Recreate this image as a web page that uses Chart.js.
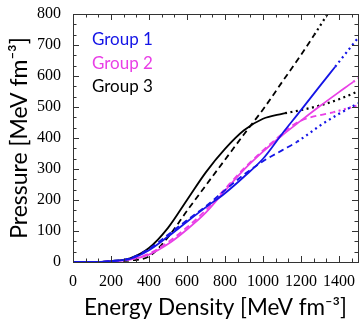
<!DOCTYPE html>
<html>
<head>
<meta charset="utf-8">
<script src="https://cdn.jsdelivr.net/npm/chart.js@4"></script>
<style>
  html, body { margin: 0; padding: 0; background: #fff; }
</style>
</head>
<body>
<canvas id="myChart" width="360" height="324"></canvas>
<script>
const groups = ["Group 1", "Group 2", "Group 3"];
const groupColors = ["#1414e6", "#e93fe6", "#000000"];

const xTicks = [0, 200, 400, 600, 800, 1000, 1200, 1400];
const yTicks = [0, 100, 200, 300, 400, 500, 600, 700, 800];

// group 1 (blue)
const g1SolidE = [0, 100, 200, 300, 400, 500, 600, 700, 800, 900, 1000, 1100, 1200, 1300, 1380, 1500];
const g1SolidP = [0, 0, 3, 10, 38, 82, 130, 177, 222, 275, 333, 413, 490, 568, 630, 723];
const g1SolidEnd = 1380;
const g1DashE = [0, 100, 200, 300, 400, 500, 600, 700, 800, 900, 1000, 1100, 1180, 1250, 1300, 1400, 1500];
const g1DashP = [0, 0, 3, 12, 42, 88, 135, 180, 232, 282, 325, 360, 388, 418, 440, 478, 512];
const g1DashEnd = 1180;

// group 2 (magenta)
const g2SolidE = [0, 100, 200, 300, 400, 500, 600, 700, 800, 900, 1000, 1100, 1200, 1300, 1400, 1475, 1500];
const g2SolidP = [0, 0, 2, 8, 24, 58, 105, 160, 230, 298, 356, 408, 456, 503, 548, 581, 593];
const g2SolidEnd = 1475;
const g2DashE = [0, 100, 200, 300, 400, 500, 600, 700, 800, 900, 1000, 1100, 1150, 1200, 1300, 1370, 1400, 1500];
const g2DashP = [0, 0, 2, 8, 27, 64, 112, 168, 236, 302, 360, 413, 438, 456, 474, 483, 488, 505];
const g2DashEnd = 1370;

// group 3 (black)
const g3SolidE = [0, 100, 200, 300, 400, 500, 600, 700, 800, 900, 1000, 1100, 1116, 1200, 1300, 1400, 1500];
const g3SolidP = [0, 0, 3, 12, 45, 110, 200, 290, 365, 425, 462, 478, 480, 490, 505, 525, 550];
const g3SolidEnd = 1116;
const g3DashE = [0, 100, 200, 300, 400, 500, 600, 700, 800, 900, 1000, 1100, 1200, 1270, 1340];
const g3DashP = [0, 0, 1, 5, 18, 80, 165, 248, 330, 412, 492, 580, 668, 733, 800];
const g3DashEnd = 1270;

const dotted = [2, 3.5];
const dashed = [6, 4];

function curve(label, color, es, ps, end, dash) {
  return {
    label: label,
    borderColor: color,
    borderWidth: 1.8,
    data: es.map((e, i) => ({ x: e, y: ps[i] })),
    pointRadius: 0,
    cubicInterpolationMode: "monotone",
    segment: {
      borderDash: (c) => (c.p0.parsed.x >= end ? dotted : dash),
      borderWidth: (c) => (c.p0.parsed.x >= end ? 2.2 : 1.8),
    },
  };
}

const frameTicks = {
  id: "frameTicks",
  afterDatasetsDraw(chart) {
    const { ctx, chartArea: a, scales: { x, y } } = chart;
    ctx.save();
    ctx.strokeStyle = "#333";
    ctx.lineWidth = 1;
    ctx.beginPath();
    for (let i = 0; i <= 22; i++) {
      const px = Math.round(x.getPixelForValue((i * 200) / 3)) + 0.5;
      const len = i % 3 === 0 ? 6 : 3.5;
      ctx.moveTo(px, a.bottom); ctx.lineTo(px, a.bottom - len);
      ctx.moveTo(px, a.top); ctx.lineTo(px, a.top + len);
    }
    for (let i = 0; i <= 24; i++) {
      const py = Math.round(y.getPixelForValue((i * 100) / 3)) + 0.5;
      const len = i % 3 === 0 ? 6 : 3.5;
      ctx.moveTo(a.left, py); ctx.lineTo(a.left + len, py);
      ctx.moveTo(a.right, py); ctx.lineTo(a.right - len, py);
    }
    ctx.stroke();
    ctx.strokeRect(Math.round(a.left) + 0.5, Math.round(a.top) + 0.5,
      Math.round(a.right - a.left), Math.round(a.bottom - a.top));

    ctx.font = "17px Lato";
    ctx.textAlign = "left";
    ctx.textBaseline = "alphabetic";
    groups.forEach((g, i) => {
      ctx.fillStyle = groupColors[i];
      ctx.fillText(g, a.left + 19, a.top + 31 + i * 23.5);
    });
    ctx.restore();
  },
};

const config = {
  type: "line",
  data: {
    datasets: [
      curve("Group 1 solid", groupColors[0], g1SolidE, g1SolidP, g1SolidEnd, []),
      curve("Group 1 dashed", groupColors[0], g1DashE, g1DashP, g1DashEnd, dashed),
      curve("Group 2 solid", groupColors[1], g2SolidE, g2SolidP, g2SolidEnd, []),
      curve("Group 2 dashed", groupColors[1], g2DashE, g2DashP, g2DashEnd, dashed),
      curve("Group 3 solid", groupColors[2], g3SolidE, g3SolidP, g3SolidEnd, []),
      curve("Group 3 dashed", groupColors[2], g3DashE, g3DashP, g3DashEnd, dashed),
    ],
  },
  options: {
    responsive: false,
    animation: false,
    devicePixelRatio: 1,
    layout: { padding: { top: 14, right: 2, left: 0, bottom: 0 } },
    plugins: { legend: { display: false }, tooltip: { enabled: false } },
    scales: {
      x: {
        type: "linear",
        min: 0,
        max: 1500,
        afterFit: (s) => { s.height = 62; },
        afterBuildTicks: (s) => { s.ticks = xTicks.map((v) => ({ value: v })); },
        grid: { display: false },
        border: { display: false },
        ticks: {
          color: "#000",
          padding: 2,
          autoSkip: false,
          maxRotation: 0,
          callback: (v) => String(v),
          font: { family: "Liberation Serif", size: 16 },
        },
        title: {
          display: true,
          text: "Energy Density [MeV fm\u207B\u00B3]",
          color: "#000",
          font: { family: "Lato", size: 22.5 },
          padding: { top: 0, bottom: 3 },
        },
      },
      y: {
        min: 0,
        max: 800,
        afterFit: (s) => { s.width = 73; },
        afterBuildTicks: (s) => { s.ticks = yTicks.map((v) => ({ value: v })); },
        grid: { display: false },
        border: { display: false },
        ticks: {
          color: "#000",
          padding: 4,
          callback: (v) => String(v),
          font: { family: "Liberation Serif", size: 16 },
        },
        title: {
          display: true,
          text: "Pressure [MeV fm\u207B\u00B3]",
          color: "#000",
          font: { family: "Lato", size: 23 },
          padding: { top: 6, bottom: 0 },
        },
      },
    },
  },
  plugins: [frameTicks],
};

const myChart = new Chart(document.getElementById("myChart"), config);
</script>
</body>
</html>
